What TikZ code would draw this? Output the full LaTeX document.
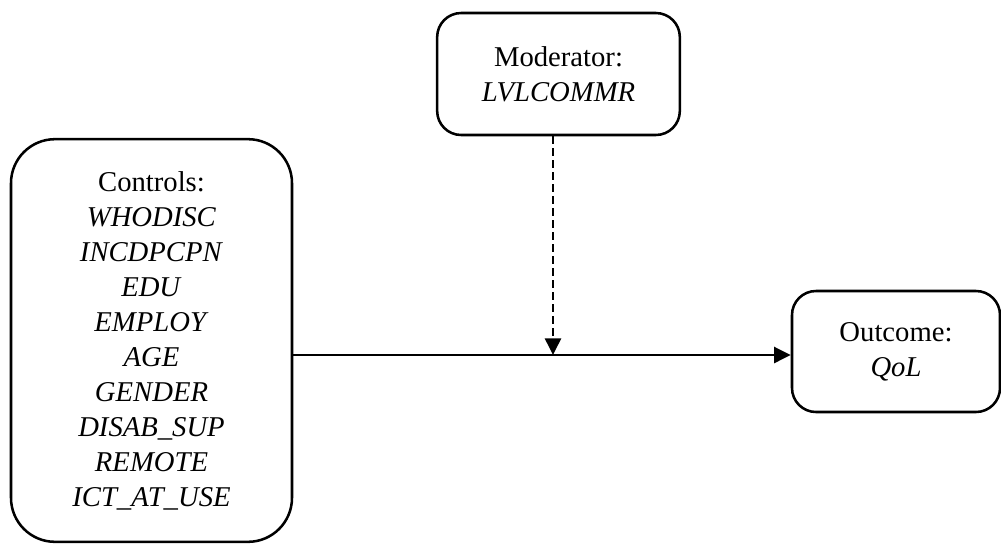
\documentclass[tikz,border=0pt]{standalone}
\usepackage{fontspec}
\setmainfont{Liberation Serif}
\usepackage{tikz}
\usetikzlibrary{arrows.meta}

\begin{document}
\begin{tikzpicture}[x=0.75pt, y=-0.75pt,
  varbox/.style={draw, line width=1.9pt, rounded corners=18pt, align=center, inner sep=0pt,
    font=\fontsize{21.5}{26.25}\selectfont},
  link/.style={line width=1.9pt, -{Triangle[length=12.5pt,width=12pt]}}]
\useasboundingbox (0,0) rectangle (1001,544);
\node[varbox, minimum width=182pt, minimum height=91.5pt] (mod) at (558.5,74) {Moderator:\\\textit{LVLCOMMR}};
\node[varbox, rounded corners=33pt, minimum width=210.75pt, minimum height=302pt] (ctrl) at (151.5,340.5) {%
Controls:\\
\textit{WHODISC}\\
\textit{INCDPCPN}\\
\textit{EDU}\\
\textit{EMPLOY}\\
\textit{AGE}\\
\textit{GENDER}\\
\textit{DISAB\_SUP}\\
\textit{REMOTE}\\
\textit{ICT\_AT\_USE}};
\node[varbox, minimum width=156pt, minimum height=90.75pt] (out) at (896,351.5) {Outcome:\\\textit{QoL}};
\coordinate (join) at (553,355);
\draw[link] (ctrl.east |- join) -- (out.west |- join);
\draw[link, dash pattern=on 6pt off 3pt] (mod.south -| join) -- (join);
\end{tikzpicture}
\end{document}
